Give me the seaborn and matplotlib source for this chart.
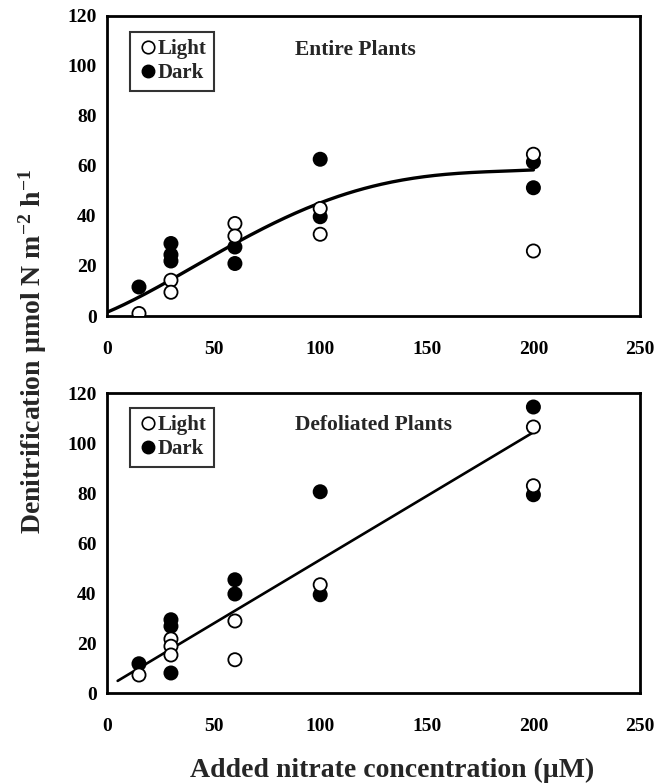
import numpy as np
import pandas as pd
import seaborn as sns
import matplotlib
matplotlib.use("Agg")
import matplotlib.pyplot as plt
from matplotlib.lines import Line2D

# ---------------- data ----------------
x_ticks = [0, 50, 100, 150, 200, 250]
y_ticks = [0, 20, 40, 60, 80, 100, 120]

# Entire plants
top_light_x = [15, 30, 30, 60, 60, 100, 100, 200, 200]
top_light_y = [1.0, 14.3, 9.5, 37.0, 32.0, 43.0, 32.7, 64.7, 26.0]
top_dark_x = [15, 30, 30, 30, 60, 60, 100, 100, 200, 200]
top_dark_y = [11.6, 29.0, 24.5, 22.0, 27.6, 21.0, 62.7, 39.7, 61.6, 51.3]
# fitted curve
top_fit_x = [0, 31, 61.5, 100, 125, 150, 175, 200]
top_fit_y = [1.5, 15.0, 29.7, 45.3, 52.0, 55.7, 57.7, 58.4]

# Defoliated plants
bot_light_x = [15, 30, 30, 30, 60, 60, 100, 200, 200]
bot_light_y = [7.2, 21.6, 18.7, 15.2, 28.8, 13.3, 43.3, 106.4, 82.9]
bot_dark_x = [15, 30, 30, 30, 60, 60, 100, 100, 200, 200]
bot_dark_y = [11.7, 29.3, 26.7, 8.0, 45.3, 39.6, 80.5, 39.3, 114.4, 79.3]
# fitted straight line
bot_fit_intercept = 2.3
bot_fit_slope = 0.51
bot_fit_range = [5, 200]

titles = ["Entire Plants", "Defoliated Plants"]
conditions = ["Light", "Dark"]

# ---------------- style ----------------
sns.set_style("white")
plt.rcParams["font.family"] = ["Liberation Serif", "DejaVu Serif"]
plt.rcParams["font.weight"] = "bold"
plt.rcParams["mathtext.fontset"] = "custom"
plt.rcParams["mathtext.rm"] = "Liberation Serif:bold"
plt.rcParams["mathtext.it"] = "Liberation Serif:bold"
plt.rcParams["mathtext.bf"] = "Liberation Serif:bold"

fig = plt.figure(figsize=(6.6, 7.84), dpi=100)
W, H = 660, 784
def axpos(l, t, r, b):
    return [l / W, 1 - b / H, (r - l) / W, (b - t) / H]

ax_top = fig.add_axes(axpos(107, 16, 640, 316))
ax_bot = fig.add_axes(axpos(107, 393, 640, 693))

def make_df(lx, ly, dx, dy):
    return pd.DataFrame({
        "x": list(dx) + list(lx),
        "y": list(dy) + list(ly),
        "cond": ["Dark"] * len(dx) + ["Light"] * len(lx),
    })

panels = [
    (ax_top, make_df(top_light_x, top_light_y, top_dark_x, top_dark_y)),
    (ax_bot, make_df(bot_light_x, bot_light_y, bot_dark_x, bot_dark_y)),
]

for i, (ax, df) in enumerate(panels):
    # fitted lines
    if i == 0:
        coef = np.polyfit(top_fit_x, top_fit_y, 4)
        xs = np.linspace(top_fit_x[0], top_fit_x[-1], 200)
        sns.lineplot(x=xs, y=np.polyval(coef, xs), ax=ax, color="black",
                     linewidth=2.4, zorder=2)
    else:
        xs = np.array(bot_fit_range, dtype=float)
        sns.lineplot(x=xs, y=bot_fit_intercept + bot_fit_slope * xs, ax=ax,
                     color="black", linewidth=1.9, zorder=2)
    sns.scatterplot(data=df, x="x", y="y", hue="cond",
                    palette={"Light": "white", "Dark": "black"},
                    edgecolor="black", linewidth=1.3, s=90, ax=ax,
                    legend=False, zorder=3)

    ax.set_xlim(0, 250)
    ax.set_ylim(0, 120)
    ax.set_xticks(x_ticks)
    ax.set_yticks(y_ticks)
    ax.set_xlabel("")
    ax.set_ylabel("")
    for sp in ax.spines.values():
        sp.set_visible(True)
        sp.set_linewidth(2.0)
        sp.set_color("black")
    ax.tick_params(axis="both", direction="inout", length=6, width=0.8,
                   colors="black", labelsize=14)
    ax.tick_params(axis="x", pad=15)
    ax.tick_params(axis="y", pad=4.5)
    for lab in ax.get_xticklabels() + ax.get_yticklabels():
        lab.set_fontweight("bold")

    ty = 1 - (34 / 300) if i == 0 else 1 - (32 / 300)
    ax.text((295 - 107) / 533, ty, titles[i], transform=ax.transAxes,
            ha="left", va="center", fontsize=15.5, fontweight="bold")

    handles = [
        Line2D([], [], marker="o", linestyle="none", markerfacecolor="white",
               markeredgecolor="black", markeredgewidth=1.2, markersize=9),
        Line2D([], [], marker="o", linestyle="none", markerfacecolor="black",
               markeredgecolor="black", markersize=9),
    ]
    leg_top = 1 - (16 / 300) if i == 0 else 1 - (15 / 300)
    leg = ax.legend(handles, conditions, loc="upper left",
                    bbox_to_anchor=((130 - 107) / 533, leg_top), frameon=True,
                    fancybox=False,
                    prop={"family": "Liberation Serif", "weight": "bold", "size": 15},
                    handletextpad=0.0, handlelength=1.0, borderpad=0.35,
                    labelspacing=0.2, borderaxespad=0.0)
    leg.get_frame().set_edgecolor("black")
    leg.get_frame().set_linewidth(1.5)

fig.text(33 / W, 1 - 352 / H,
         "Denitrification µmol N m$^{-2}$ h$^{-1}$",
         rotation=90, ha="center", va="center", fontsize=20, fontweight="bold")
fig.text(392 / W, 1 - 770 / H,
         "Added nitrate concentration (µM)",
         ha="center", va="center", fontsize=20, fontweight="bold")

fig.savefig("out.png", dpi=100)
